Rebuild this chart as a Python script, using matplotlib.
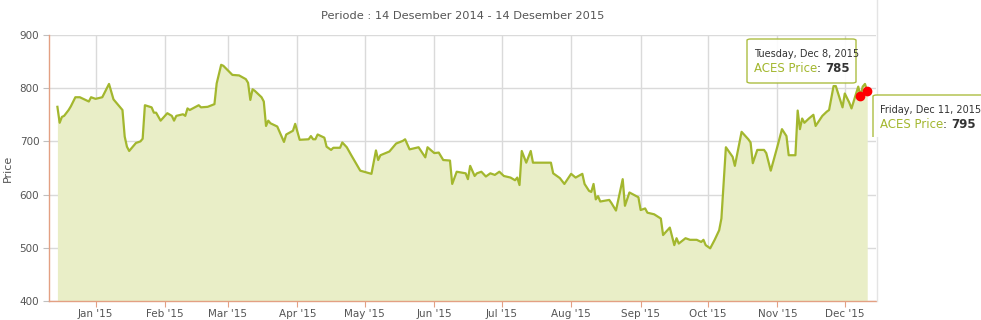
import numpy as np
import pandas as pd
import matplotlib
matplotlib.use("Agg")
from matplotlib import pyplot as plt
import matplotlib.dates as mdates
from matplotlib.patches import FancyBboxPatch
from matplotlib.lines import Line2D
from matplotlib.text import Annotation
from matplotlib.transforms import Bbox

# --- data ---
dates = [
    "2014-12-15", "2014-12-16", "2014-12-17", "2014-12-18", "2014-12-20", "2014-12-21",
    "2014-12-23", "2014-12-25", "2014-12-29", "2014-12-30", "2015-01-01", "2015-01-04",
    "2015-01-07", "2015-01-09", "2015-01-13", "2015-01-14", "2015-01-15", "2015-01-16",
    "2015-01-19", "2015-01-21", "2015-01-22", "2015-01-23", "2015-01-26", "2015-01-27",
    "2015-01-28", "2015-01-30", "2015-02-02", "2015-02-04", "2015-02-05", "2015-02-06",
    "2015-02-09", "2015-02-10", "2015-02-11", "2015-02-12", "2015-02-16", "2015-02-17",
    "2015-02-20", "2015-02-23", "2015-02-24", "2015-02-26", "2015-02-27", "2015-03-03",
    "2015-03-06", "2015-03-09", "2015-03-10", "2015-03-11", "2015-03-12", "2015-03-13",
    "2015-03-16", "2015-03-17", "2015-03-18", "2015-03-19", "2015-03-20", "2015-03-23",
    "2015-03-26", "2015-03-27", "2015-03-30", "2015-03-31", "2015-04-02", "2015-04-06",
    "2015-04-07", "2015-04-08", "2015-04-09", "2015-04-10", "2015-04-13", "2015-04-14",
    "2015-04-16", "2015-04-17", "2015-04-20", "2015-04-21", "2015-04-23", "2015-04-25",
    "2015-04-29", "2015-05-04", "2015-05-06", "2015-05-07", "2015-05-08", "2015-05-12",
    "2015-05-15", "2015-05-18", "2015-05-19", "2015-05-21", "2015-05-25", "2015-05-28",
    "2015-05-29", "2015-06-01", "2015-06-03", "2015-06-05", "2015-06-08", "2015-06-09",
    "2015-06-11", "2015-06-15", "2015-06-16", "2015-06-17", "2015-06-19", "2015-06-20",
    "2015-06-22", "2015-06-24", "2015-06-26", "2015-06-28", "2015-06-30", "2015-07-02",
    "2015-07-05", "2015-07-07", "2015-07-08", "2015-07-09", "2015-07-10", "2015-07-12",
    "2015-07-14", "2015-07-15", "2015-07-23", "2015-07-24", "2015-07-27", "2015-07-29",
    "2015-08-01", "2015-08-03", "2015-08-06", "2015-08-07", "2015-08-09", "2015-08-10",
    "2015-08-11", "2015-08-12", "2015-08-13", "2015-08-14", "2015-08-18", "2015-08-19",
    "2015-08-21", "2015-08-24", "2015-08-25", "2015-08-27", "2015-08-31", "2015-09-01",
    "2015-09-03", "2015-09-04", "2015-09-07", "2015-09-10", "2015-09-11", "2015-09-14",
    "2015-09-16", "2015-09-17", "2015-09-18", "2015-09-21", "2015-09-23", "2015-09-26",
    "2015-09-28", "2015-09-29", "2015-09-30", "2015-10-02", "2015-10-04", "2015-10-06",
    "2015-10-07", "2015-10-09", "2015-10-12", "2015-10-13", "2015-10-16", "2015-10-19",
    "2015-10-20", "2015-10-21", "2015-10-23", "2015-10-26", "2015-10-27", "2015-10-29",
    "2015-11-01", "2015-11-03", "2015-11-05", "2015-11-06", "2015-11-09", "2015-11-10",
    "2015-11-11", "2015-11-12", "2015-11-13", "2015-11-15", "2015-11-17", "2015-11-18",
    "2015-11-21", "2015-11-23", "2015-11-24", "2015-11-26", "2015-11-27", "2015-11-30",
    "2015-12-01", "2015-12-03", "2015-12-04", "2015-12-07", "2015-12-08", "2015-12-09",
    "2015-12-10", "2015-12-11",
]
prices = [
    765, 735, 746, 748, 759, 766,
    783, 783, 775, 783, 780, 783,
    808, 779, 759, 709, 690, 682,
    697, 700, 705, 768, 764, 754,
    754, 739, 753, 748, 739, 748,
    751, 748, 762, 759, 768, 764,
    765, 770, 809, 844, 842, 825,
    824, 817, 810, 778, 798, 795,
    783, 775, 729, 739, 734, 728,
    699, 713, 720, 733, 703, 704,
    710, 704, 704, 713, 707, 690,
    684, 688, 688, 698, 689, 674,
    645, 639, 683, 665, 674, 681,
    696, 701, 704, 685, 689, 670,
    689, 678, 679, 665, 664, 620,
    643, 640, 629, 654, 635, 640,
    643, 634, 640, 637, 643, 635,
    632, 627, 632, 618, 682, 660,
    682, 660, 660, 640, 631, 620,
    639, 632, 639, 620, 607, 605,
    620, 591, 597, 587, 590, 584,
    570, 629, 579, 604, 595, 571,
    574, 566, 563, 555, 524, 538,
    505, 518, 508, 518, 515, 515,
    511, 515, 505, 499, 515, 533,
    555, 689, 671, 654, 718, 704,
    698, 659, 684, 684, 678, 645,
    691, 723, 710, 674, 674, 758,
    723, 743, 735, 743, 750, 729,
    748, 756, 759, 804, 804, 764,
    790, 773, 762, 803, 785, 803,
    808, 795,
]

tooltip_dates = ["2015-12-08", "2015-12-11"]
tooltip_heads = ["Tuesday, Dec 8, 2015", "Friday, Dec 11, 2015"]
tooltip_prices = [785, 795]

title = "Periode : 14 Desember 2014 - 14 Desember 2015"
series_name = "ACES Price"

line_col = "#a3b72e"
fill_col = "#e9eec7"
axis_col = "#e3a083"
grid_col = "#dadada"
text_col = "#555555"

W, H = 981, 320
x = pd.to_datetime(dates)
y = np.array(prices)

fig = plt.figure(figsize=(W / 100, H / 100), dpi=100)
ax = fig.add_axes([49 / W, 19 / H, 827 / W, 266 / H])

ax.fill_between(x, y, 400, color=fill_col, lw=0, zorder=1)
ax.plot(x, y, color=line_col, lw=1.6, zorder=2)

ax.set_ylim(400, 900)
ax.set_xlim(pd.Timestamp("2014-12-11 06:00"), pd.Timestamp("2015-12-14 22:00"))
ax.set_yticks(range(400, 901, 100))
ax.xaxis.set_major_locator(mdates.MonthLocator())
ax.xaxis.set_major_formatter(mdates.DateFormatter("%b '%y"))

ax.grid(True, color=grid_col, lw=1)
ax.set_axisbelow(True)
for s in ["top", "right"]:
    ax.spines[s].set_visible(False)
for s in ["left", "bottom"]:
    ax.spines[s].set_color(axis_col)
    ax.spines[s].set_linewidth(1)
ax.tick_params(axis="y", length=4, color="#c0c0c0", labelsize=7.5, labelcolor=text_col, pad=3)
ax.tick_params(axis="x", length=4, color=axis_col, labelsize=7.5, labelcolor=text_col, pad=2)
ax.set_ylabel("Price", fontsize=8, color=text_col, labelpad=5)

fig.text(462.5 / W, 1 - 16 / H, title, ha="center", va="center", fontsize=8.2, color=text_col)

# outer container border on the right
fig.add_artist(Line2D([876.5 / W] * 2, [19 / H, 1], color="#e4e4e4", lw=1))

# hover markers
td = pd.to_datetime(tooltip_dates)
ax.plot(td, tooltip_prices, "o", color="red", ms=6, zorder=5, clip_on=False)


def tooltip(x0, y0, x1, y1, head, val, clip_bottom=None):
    box = FancyBboxPatch((x0 / W, 1 - y1 / H), (x1 - x0) / W, (y1 - y0) / H,
                         boxstyle="round,pad=0,rounding_size=0.004",
                         transform=fig.transFigure, fc="white", ec=line_col,
                         lw=1, alpha=0.9, zorder=10)
    fig.add_artist(box)
    if clip_bottom is not None:
        box.set_clip_box(Bbox([[0, (H - clip_bottom)], [W, H]]))
    fig.text((x0 + 7) / W, 1 - (y0 + 15) / H, head, fontsize=7, color="#333333",
             va="center", ha="left", zorder=11)
    t1 = fig.text((x0 + 7) / W, 1 - (y0 + 30) / H, series_name, fontsize=8.5,
                  color=line_col, va="center", ha="left", zorder=11)
    t2 = Annotation(": ", xy=(1, 0), xycoords=t1, va="bottom", ha="left",
                    fontsize=8.5, color="#333333", zorder=11)
    fig.add_artist(t2)
    t3 = Annotation(str(val), xy=(1, 0), xycoords=t2, va="bottom", ha="left",
                    fontsize=8.5, color="#333333", fontweight="bold", zorder=11)
    fig.add_artist(t3)


tooltip(747, 39, 856, 83, tooltip_heads[0], tooltip_prices[0])
tooltip(873, 95, 995, 150, tooltip_heads[1], tooltip_prices[1], clip_bottom=137)

fig.savefig("out.png", dpi=100)
